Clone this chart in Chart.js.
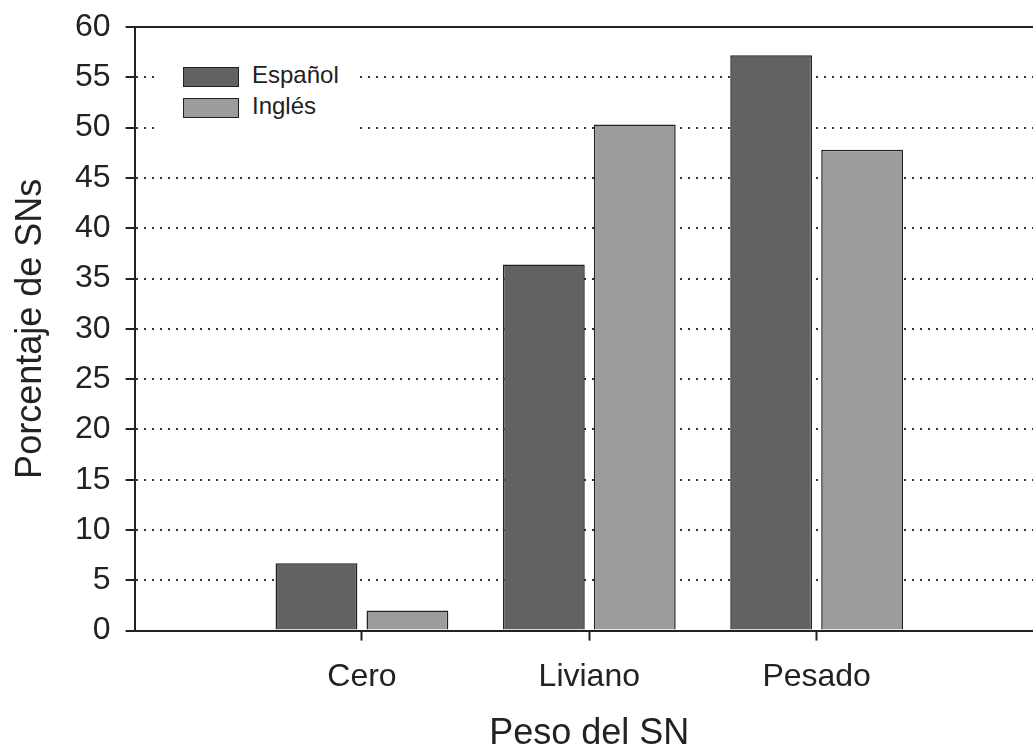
<!DOCTYPE html>
<html>
<head>
<meta charset="utf-8">
<script src="https://cdn.jsdelivr.net/npm/chart.js@4/dist/chart.umd.min.js"></script>
<style>
  html, body { margin: 0; padding: 0; background: #fff; overflow: hidden; }
  #wrap { position: relative; width: 1061px; height: 748px; }
  #legend {
    position: absolute; left: 160px; top: 48px; width: 195px; height: 96px;
    background: #fff; font-family: "Liberation Sans", Arial, sans-serif;
    font-size: 24px; color: #222;
  }
  .item { position: absolute; left: 23px; height: 20px; }
  .item span.box { position: absolute; left: 0; top: 0; width: 54px; height: 18px; border: 1.5px solid #222; }
  .item span.txt { position: absolute; left: 69px; top: -6px; white-space: nowrap; }
</style>
</head>
<body>
<div id="wrap">
  <canvas id="myChart"></canvas>
  <div id="legend"></div>
</div>
<script>
// data
const categorias = ['', 'Cero', 'Liviano', 'Pesado', ''];
const espanol = [null, 6.7, 36.4, 57.2, null];
const ingles = [null, 2.0, 50.3, 47.8, null];
const yTicks = [0, 5, 10, 15, 20, 25, 30, 35, 40, 45, 50, 55, 60];

const colEsp = 'rgb(98, 98, 98)';
const colIng = 'rgb(156, 156, 156)';
const ink = '#222';
const font = 'Liberation Sans';

//legend
const leg = [['Español', colEsp], ['Inglés', colIng]];
document.getElementById('legend').innerHTML = leg.map((l, i) =>
    `<div class="item" style="top:${19 + i * 31}px"><span class="box" style="background:${l[1]}"></span><span class="txt">${l[0]}</span></div>`
).join('');

//chart
const ctx = document.getElementById('myChart').getContext('2d');
const myChart = new Chart(ctx, {
    type: 'bar',
    data: {
        labels: categorias,
        datasets: [{
            label: 'Español',
            data: espanol,
            backgroundColor: colEsp,
            borderColor: ink,
            borderWidth: 1.5,
            categoryPercentage: 0.8,
            barPercentage: 0.9
        }, {
            label: 'Inglés',
            data: ingles,
            backgroundColor: colIng,
            borderColor: ink,
            borderWidth: 1.5,
            categoryPercentage: 0.8,
            barPercentage: 0.9
        }]
    },
    options: {
        responsive: true,
        maintainAspectRatio: false,
        animation: false,
        layout: { padding: { top: 0, right: 6, left: 0, bottom: 0 } },
        plugins: { legend: { display: false }, tooltip: { enabled: false } },
        scales: {
            x: {
                offset: false,
                grid: {
                    display: true,
                    offset: false,
                    drawOnChartArea: false,
                    drawTicks: true,
                    tickLength: 10,
                    tickWidth: 2,
                    tickColor: (c) => categorias[c.index] ? ink : 'rgba(0,0,0,0)'
                },
                border: { display: true, color: ink, width: 2 },
                ticks: {
                    color: ink, padding: 17, maxRotation: 0, autoSkip: false,
                    font: { family: font, size: 32 }
                },
                title: {
                    display: true, text: 'Peso del SN', color: ink,
                    font: { family: font, size: 36, lineHeight: 1 },
                    padding: { top: 3, bottom: -4 }
                }
            },
            xTop: {
                position: 'top',
                type: 'category',
                labels: categorias,
                offset: false,
                grid: { display: false, drawTicks: false },
                ticks: { display: false },
                border: { display: true, color: ink, width: 2 }
            },
            y: {
                min: 0,
                max: 60,
                afterBuildTicks: (s) => { s.ticks = yTicks.map(v => ({ value: v })); },
                grid: {
                    color: (c) => (c.tick && (c.tick.value === 0 || c.tick.value === 60)) ? 'rgba(0,0,0,0)' : '#333',
                    lineWidth: 2,
                    drawTicks: true,
                    tickLength: 9,
                    tickWidth: 2,
                    tickColor: ink,
                    tickBorderDash: []
                },
                border: { display: true, color: ink, width: 2, dash: [2, 6] },
                ticks: {
                    color: ink, padding: 15,
                    font: { family: font, size: 32, lineHeight: 0.75 }
                },
                title: {
                    display: true, text: 'Porcentaje de SNs', color: ink,
                    font: { family: font, size: 36, lineHeight: 1 },
                    padding: { top: 13, bottom: 11 }
                }
            }
        }
    }
});
</script>
</body>
</html>
